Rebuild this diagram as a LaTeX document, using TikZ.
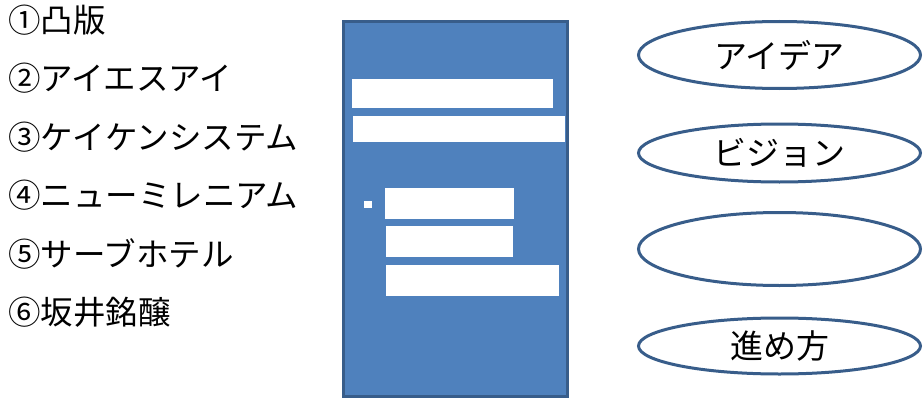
\documentclass[tikz,border=0pt]{standalone}
\usepackage{fontspec}
\newfontfamily\jpfont{Noto Sans CJK JP}
\definecolor{slideBlue}{RGB}{79, 129, 189}
\definecolor{slideEdge}{RGB}{56, 93, 138}
\usepackage{tikz}
\usetikzlibrary{
  shapes.geometric,
  positioning
}
\tikzset{
  % Metin stilleri
  itemtext/.style={
    anchor=west,
    inner sep=0pt,
    font=\jpfont\fontsize{32.5}{38}\selectfont,
    text=black
  },
  % Mavi sayfa
  pagebox/.style={
    draw=slideEdge,
    fill=slideBlue,
    line width=3pt,
    inner sep=0pt
  },
  % Beyaz çubuklar
  whitebar/.style={
    fill=white,
    inner sep=0pt,
    minimum width=#1
  },
  % Oval etiketler
  ovalbox/.style={
    ellipse,
    draw=slideEdge,
    line width=3pt,
    minimum width=282pt,
    inner sep=0pt,
    font=\jpfont\fontsize{33}{38}\selectfont
  },
}
\begin{document}
\begin{tikzpicture}[x=1pt, y=1pt]
  \useasboundingbox (0,0) rectangle (924,400);
  % Sol liste
  \foreach \txt [count=\i] in {①凸版, ②アイエスアイ, ③ケイケンシステム,
      ④ニューミレニアム, ⑤サーブホテル, ⑥坂井銘醸} {
    \node[itemtext] (item\i) at (8, {380-58.4*(\i-1)}) {\txt};
  }
  % Orta sayfa
  \node[pagebox, minimum width=224pt, minimum height=375pt] (page) at (455.5, 191) {};
  \node[whitebar=201pt, minimum height=29pt] (bar1) at (452.5, 306.5) {};
  \node[whitebar=212pt, minimum height=26pt] (bar2) at (459, 271) {};
  \node[whitebar=8pt, minimum height=7pt] (dot) at (368, 195.5) {};
  \node[whitebar=129pt, minimum height=31pt] (bar3) at (449.5, 196.5) {};
  \node[whitebar=127pt, minimum height=31pt] (bar4) at (449.5, 158.5) {};
  \node[whitebar=173pt, minimum height=31pt] (bar5) at (472.5, 119.5) {};
  % Sağ ovaller
  \node[ovalbox, minimum height=67pt] (idea) at (779.5, 345) {アイデア};
  \node[ovalbox, minimum height=58pt] (vision) at (779.5, 247) {ビジョン};
  \node[ovalbox, minimum height=73pt] (blank) at (779.5, 151) {};
  \node[ovalbox, minimum height=56pt] (method) at (779.5, 54) {進め方};
\end{tikzpicture}
\end{document}
